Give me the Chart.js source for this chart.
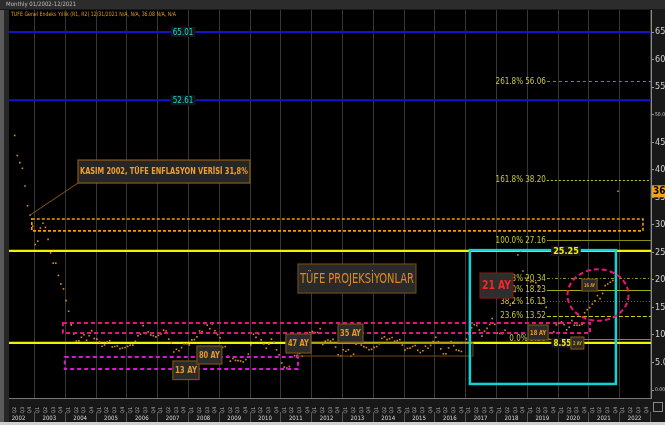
<!DOCTYPE html>
<html lang="tr">
<head>
<meta charset="UTF-8">
<title>TÜFE Projeksiyonlar</title>
<script src="https://cdn.jsdelivr.net/npm/chart.js"></script>
<style>
  html, body { margin: 0; padding: 0; background: #000; }
  canvas { display: block; }
</style>
</head>
<body>
<canvas id="grafik" width="665" height="425"></canvas>
<script>
// TÜFE yıllık değişim (%), aylık - ilk değer Mayıs 2002
const ilkAy = 2002 + 4 / 12;
const tufe = [
  46.22, 42.58, 41.28, 40.25, 37.05, 33.45, 31.77, 29.75,                        // 2002 (May-Ara)
  26.42, 27.03, 29.42, 30.28, 29.53, 27.36, 24.90, 23.03, 23.04, 20.80, 19.28, 18.36, // 2003
  16.22, 14.30, 11.83, 10.18, 8.88, 8.93, 9.57, 10.04, 9.02, 9.86, 10.76, 9.35,    // 2004
  9.24, 8.69, 7.94, 8.18, 8.70, 8.95, 7.82, 7.91, 7.99, 7.52, 7.61, 7.72,          // 2005
  7.93, 8.15, 8.16, 8.83, 9.86, 10.12, 11.69, 10.26, 10.55, 9.98, 9.86, 9.65,      // 2006
  9.93, 10.16, 10.86, 10.72, 9.23, 8.60, 6.90, 7.39, 7.12, 7.70, 8.40, 8.39,       // 2007
  8.17, 9.10, 9.15, 9.66, 10.74, 10.61, 12.06, 11.77, 11.13, 11.99, 10.76, 10.06,  // 2008
  9.50, 7.73, 7.89, 6.13, 5.24, 5.73, 5.39, 5.33, 5.27, 5.08, 5.53, 6.53,          // 2009
  8.19, 10.13, 9.56, 10.19, 9.10, 8.37, 7.58, 8.33, 9.24, 8.62, 7.29, 6.40,        // 2010
  4.90, 4.16, 3.99, 4.26, 7.17, 6.24, 6.31, 6.65, 6.15, 7.66, 9.48, 10.45,         // 2011
  10.61, 10.43, 10.43, 11.14, 8.28, 8.87, 9.07, 8.88, 9.19, 7.80, 6.37, 6.16,      // 2012
  7.31, 7.03, 7.29, 6.13, 6.51, 8.30, 8.88, 8.17, 7.88, 7.71, 7.32, 7.40,          // 2013
  7.75, 7.89, 8.39, 9.38, 9.66, 9.16, 9.32, 9.54, 8.86, 8.96, 9.15, 8.17,          // 2014
  7.24, 7.55, 7.61, 7.91, 8.09, 7.20, 6.81, 7.14, 7.95, 7.58, 8.10, 8.81,          // 2015
  9.58, 8.78, 7.46, 6.57, 6.58, 7.64, 8.79, 8.05, 7.28, 7.16, 7.00, 8.53,          // 2016
  9.22, 10.13, 11.29, 11.87, 11.72, 10.90, 9.79, 10.68, 11.20, 11.90, 12.98, 11.92, // 2017
  10.35, 10.26, 10.23, 10.85, 12.15, 15.39, 15.85, 17.90, 24.52, 25.24, 21.62, 20.30, // 2018
  20.35, 19.67, 19.71, 19.50, 18.71, 15.72, 16.65, 15.01, 9.26, 8.55, 10.56, 11.84, // 2019
  12.15, 12.37, 11.86, 10.94, 11.39, 12.62, 11.76, 11.77, 11.75, 11.89, 14.03, 14.60, // 2020
  14.97, 15.61, 16.19, 17.14, 16.59, 17.53, 18.95, 19.25, 19.58, 19.89, 21.31, 36.08  // 2021
];

const yillar = [2002, 2003, 2004, 2005, 2006, 2007, 2008, 2009, 2010, 2011, 2012,
                2013, 2014, 2015, 2016, 2017, 2018, 2019, 2020, 2021, 2022];
const ceyrekler = ['Q1', 'Q2', 'Q3', 'Q4'];
const yTikleri = [0, 5, 10, 15, 20, 25, 30, 35, 40, 45, 50, 55, 60, 65];

const maviSeviyeler = [65.01, 52.61];
const sariSeviyeler = [25.25, 8.55];
const fiboYuzde = ['0.0%', '23.6%', '38.2%', '50.0%', '61.8%', '100.0%', '161.8%', '261.8%'];
const fiboDeger = [9.30, 13.52, 16.13, 18.23, 20.34, 27.16, 38.20, 56.06];
const sonDeger = tufe[tufe.length - 1];

// notlar (veri biriminde konumlar)
const fiboBasla = 2019.65;
const kasimIdx = 6; // Kasım 2002
const ayKutulari = [
  { metin: '13 AY', x1: 2007.51, x2: 2008.36, y1: 1.9, y2: 5.27, boy: 9 },
  { metin: '80 AY', x1: 2008.29, x2: 2009.10, y1: 4.72, y2: 7.99, boy: 9 },
  { metin: '47 AY', x1: 2011.18, x2: 2011.99, y1: 6.72, y2: 10.17, boy: 9 },
  { metin: '35 AY', x1: 2012.87, x2: 2013.68, y1: 8.71, y2: 11.98, boy: 9 },
  { metin: '18 AY', x1: 2019.04, x2: 2019.69, y1: 9.08, y2: 11.8, boy: 7 },
  { metin: '2 AY', x1: 2020.43, x2: 2020.85, y1: 7.44, y2: 9.62, boy: 5 },
  { metin: '16 AY', x1: 2020.79, x2: 2021.28, y1: 17.97, y2: 20.15, boy: 5 }
];

const NAR = "'Liberation Sans Narrow', 'DejaVu Sans Condensed', sans-serif";

function yaziSigdir(ctx, metin, cx, cy, maxW, font, renk, hiza) {
  ctx.save();
  ctx.font = font;
  const w = ctx.measureText(metin).width;
  const s = Math.min(1, maxW / w);
  ctx.translate(cx, cy);
  ctx.scale(s, 1);
  ctx.textAlign = hiza || 'center';
  ctx.textBaseline = 'middle';
  ctx.fillStyle = renk;
  ctx.fillText(metin, 0, 0);
  ctx.restore();
}

const cizimler = {
  id: 'cizimler',
  beforeDraw(chart) {
    const { ctx, chartArea: a } = chart;
    ctx.save();
    ctx.fillStyle = '#181818';
    ctx.fillRect(0, 0, chart.width, chart.height);
    ctx.fillStyle = '#000';
    ctx.fillRect(a.left, a.top, a.right - a.left, a.bottom - a.top);
    ctx.fillStyle = '#2c2c2c';
    ctx.fillRect(0, 0, chart.width, a.top - 1);
    ctx.fillStyle = '#5a5a5a';
    ctx.fillRect(0, a.top, 4, chart.height - a.top);
    ctx.fillStyle = '#262626';
    ctx.fillRect(4, a.top, a.left - 4, chart.height - a.top);
    ctx.fillStyle = '#bbb';
    ctx.font = '6px ' + NAR;
    ctx.textBaseline = 'middle';
    ctx.fillText('Monthly 01/2002-12/2021', 6, 4.5);
    ctx.restore();
  },
  beforeDatasetsDraw(chart) {
    const { ctx, chartArea: a, scales: { x, y } } = chart;
    ctx.save();
    ctx.beginPath();
    ctx.rect(a.left, a.top, a.right - a.left, a.bottom - a.top);
    ctx.clip();
    // yıl ızgarası
    ctx.strokeStyle = '#363636';
    ctx.lineWidth = 1;
    yillar.forEach(yl => {
      const px = Math.round(x.getPixelForValue(yl + 1)) + 0.5;
      ctx.beginPath(); ctx.moveTo(px, a.top); ctx.lineTo(px, a.bottom); ctx.stroke();
    });
    // mavi seviyeler
    ctx.strokeStyle = '#1414c8';
    ctx.lineWidth = 2;
    maviSeviyeler.forEach(v => {
      const py = y.getPixelForValue(v);
      ctx.beginPath(); ctx.moveTo(a.left, py); ctx.lineTo(a.right, py); ctx.stroke();
    });
    // fibonacci
    const fiboStil = [
      ['#8c8c14', []], ['#d2d200', [4, 2]], ['#6e6e14', [1, 2]], ['#a8a814', []],
      ['#9a9a14', [3, 2, 1, 2]], ['#8c8c14', []], ['#c8c800', [2, 2]], ['#8c8c00', [3, 3]]
    ];
    ctx.lineWidth = 1;
    const fx = x.getPixelForValue(fiboBasla);
    fiboDeger.forEach((v, i) => {
      const py = Math.round(y.getPixelForValue(v)) + 0.5;
      ctx.strokeStyle = fiboStil[i][0];
      ctx.setLineDash(fiboStil[i][1]);
      ctx.beginPath(); ctx.moveTo(fx, py); ctx.lineTo(a.right, py); ctx.stroke();
    });
    ctx.setLineDash([]);
    // sarı seviyeler
    ctx.strokeStyle = '#f2f200';
    ctx.lineWidth = 2.2;
    sariSeviyeler.forEach(v => {
      const py = y.getPixelForValue(v);
      ctx.beginPath(); ctx.moveTo(a.left, py); ctx.lineTo(a.right, py); ctx.stroke();
    });
    ctx.restore();
  },
  afterDatasetsDraw(chart) {
    const { ctx, chartArea: a, scales: { x, y } } = chart;
    const X = v => x.getPixelForValue(v);
    const Y = v => y.getPixelForValue(v);

    function kesikKutu(x1, x2, y1, y2, renk, lw, dash) {
      ctx.save();
      ctx.strokeStyle = renk; ctx.lineWidth = lw; ctx.setLineDash(dash);
      ctx.strokeRect(X(x1), Y(y2), X(x2) - X(x1), Y(y1) - Y(y2));
      ctx.restore();
    }
    function etiketKutu(x1, x2, y1, y2, dolgu, cerceve, metin, font, renk) {
      const l = X(x1), r = X(x2), t = Y(y2), b = Y(y1);
      ctx.save();
      ctx.fillStyle = dolgu; ctx.fillRect(l, t, r - l, b - t);
      ctx.strokeStyle = cerceve; ctx.lineWidth = 1.2; ctx.strokeRect(l, t, r - l, b - t);
      ctx.restore();
      yaziSigdir(ctx, metin, (l + r) / 2, (t + b) / 2 + 0.5, r - l - 4, font, renk);
    }
    function degerEtiketi(metin, cxv, v, renk, font) {
      ctx.save();
      ctx.font = font;
      const w = ctx.measureText(metin).width + 4;
      const cx = X(cxv), cy = Y(v);
      ctx.fillStyle = '#161616';
      ctx.fillRect(cx - w / 2, cy - 5, w, 10);
      ctx.restore();
      yaziSigdir(ctx, metin, cx, cy + 0.5, w, font, renk);
    }

    ctx.save();
    ctx.beginPath();
    ctx.rect(a.left, a.top, a.right - a.left, a.bottom - a.top);
    ctx.clip();

    // kesikli kutular
    kesikKutu(2002.93, 2022.77, 28.9, 31.05, '#f0a000', 1.6, [3, 2]);
    kesikKutu(2003.94, 2021.05, 10.35, 12.16, '#e8147e', 2, [4, 3]);
    kesikKutu(2004.00, 2011.57, 3.81, 5.99, '#dc14dc', 2, [4, 3]);
    kesikKutu(2011.57, 2017.25, 6.17, 8.53, '#7a4a10', 1, []);
    kesikKutu(2017.15, 2021.89, 1.1, 25.4, '#14d2d2', 2.5, []);

    // elips
    ctx.save();
    const ex = X(2021.31), ey = Y(17.25);
    ctx.strokeStyle = '#e8147e'; ctx.lineWidth = 2; ctx.setLineDash([5, 3]);
    ctx.beginPath();
    ctx.ellipse(ex, ey, X(2021.31 + 0.99) - ex, Y(17.25 - 4.67) - ey, 0, 0, Math.PI * 2);
    ctx.stroke();
    ctx.restore();

    // fibonacci etiketleri
    ctx.save();
    ctx.font = '8px ' + NAR;
    ctx.fillStyle = '#c8c83c';
    ctx.textAlign = 'right';
    ctx.textBaseline = 'middle';
    fiboDeger.forEach((v, i) => {
      ctx.fillText(fiboYuzde[i] + ' ' + v.toFixed(2), X(fiboBasla) - 1, Y(v) + 0.5);
    });
    ctx.restore();

    // seviye etiketleri
    maviSeviyeler.forEach(v => degerEtiketi(v.toFixed(2), 2007.84, v, '#19d3d3', '8px ' + NAR));
    degerEtiketi(sariSeviyeler[0].toFixed(2), 2020.27, sariSeviyeler[0], '#f2f200', 'bold 9px ' + NAR);
    degerEtiketi(sariSeviyeler[1].toFixed(2), 2020.15, sariSeviyeler[1], '#f2f200', 'bold 8px ' + NAR);

    // AY kutuları
    ayKutulari.forEach(k => etiketKutu(k.x1, k.x2, k.y1, k.y2, '#2b2b2b', '#7a5012',
      k.metin, 'bold ' + k.boy + 'px ' + NAR, '#e09a30'));
    etiketKutu(2017.48, 2018.55, 16.7, 21.24, '#2e2e2e', '#7a1a1a', '21 AY', 'bold 12px ' + NAR, '#ff2424');
    etiketKutu(2011.57, 2015.40, 17.6, 22.88, '#2a2a2a', '#6e4812', 'TÜFE PROJEKSİYONLAR', '14px ' + NAR, '#e08a22');

    // Kasım 2002 notu
    const bx1 = 2004.43, bx2 = 2010.01, by1 = 37.58, by2 = 41.76;
    ctx.save();
    ctx.strokeStyle = '#8a5a12'; ctx.lineWidth = 1;
    ctx.beginPath();
    ctx.moveTo(X(bx1), Y(by1));
    ctx.lineTo(X(ilkAy + kasimIdx / 12 + 1 / 24), Y(tufe[kasimIdx]));
    ctx.stroke();
    ctx.restore();
    etiketKutu(bx1, bx2, by1, by2, '#262626', '#8a5a12',
      'KASIM 2002, TÜFE ENFLASYON VERİSİ 31,8%', 'bold 9px ' + NAR, '#f0a030');

    // lejant
    yaziSigdir(ctx, 'TUFE Genel Endeks Yıllık (R1, R2) 12/31/2021 N/A, N/A, 36.08 N/A, N/A',
      11, a.top + 4, 165, '6px ' + NAR, '#e8961e', 'left');
    ctx.restore();

    // yıl etiketleri ve ayraçlar
    ctx.save();
    ctx.font = '6px ' + NAR;
    ctx.fillStyle = '#d8d8d8';
    ctx.textAlign = 'center';
    ctx.textBaseline = 'middle';
    ctx.strokeStyle = '#555';
    ctx.lineWidth = 1;
    yillar.forEach(yl => {
      const mid = X(yl + 0.5);
      if (mid > a.left && mid < a.right) ctx.fillText(String(yl), mid, a.bottom + 20);
      const px = Math.round(X(yl + 1)) + 0.5;
      if (px < a.right) {
        ctx.beginPath(); ctx.moveTo(px, a.bottom + 14); ctx.lineTo(px, a.bottom + 24); ctx.stroke();
      }
    });
    ctx.fillStyle = '#d0d0d0';
    ctx.fillRect(0, chart.height - 3, chart.width, 3);
    ctx.restore();

    // son değer etiketi
    ctx.save();
    const sy = Y(sonDeger);
    ctx.fillStyle = '#f5a01e';
    ctx.fillRect(a.right + 1, sy - 6, chart.width - a.right, 12);
    ctx.fillStyle = '#000';
    ctx.font = 'bold 10px ' + NAR;
    ctx.textBaseline = 'middle';
    ctx.fillText(sonDeger.toFixed(2), a.right + 2, sy + 0.5);
    ctx.strokeStyle = '#888';
    ctx.strokeRect(a.right + 2.5, a.bottom + 4.5, 9, 9);
    ctx.restore();
  }
};

const noktalar = tufe.map((v, i) => ({ x: ilkAy + i / 12 + 1 / 24, y: v }));

new Chart(document.getElementById('grafik'), {
  type: 'line',
  data: {
    datasets: [{
      label: 'TÜFE',
      data: noktalar,
      showLine: false,
      pointStyle: 'rect',
      pointRadius: 1.15,
      pointBorderWidth: 0,
      pointBackgroundColor: '#dc8a1a',
      pointBorderColor: '#dc8a1a'
    }]
  },
  options: {
    responsive: false,
    animation: false,
    layout: { padding: { left: 9, top: 10, right: 0, bottom: 0 } },
    plugins: { legend: { display: false }, tooltip: { enabled: false } },
    scales: {
      x: {
        type: 'linear',
        min: 2002.19,
        max: 2023.03,
        afterBuildTicks: s => {
          const t = [];
          yillar.forEach(yl => ceyrekler.forEach((q, i) => {
            const v = yl + i / 4 + 0.125;
            if (v > s.min && v < s.max) t.push({ value: v });
          }));
          s.ticks = t;
        },
        afterFit: s => { s.height = 27; },
        grid: { display: false },
        border: { color: '#777' },
        ticks: {
          autoSkip: false, minRotation: 90, maxRotation: 90, padding: 1,
          color: '#b0b0b0', font: { size: 5, family: NAR },
          callback: v => ceyrekler[Math.floor(((v % 1) + 1e-6) * 4)]
        }
      },
      y: {
        position: 'right',
        min: -1.45,
        max: 69,
        afterBuildTicks: s => { s.ticks = yTikleri.map(v => ({ value: v })); },
        afterFit: s => { s.width = 14; },
        grid: { drawOnChartArea: false, color: '#999', tickLength: 3 },
        border: { color: '#8a8a8a' },
        ticks: {
          padding: 1,
          color: '#cfcfcf',
          font: c => ({ size: (c.tick && (c.tick.value === 0 || c.tick.value === 50)) ? 5 : 9, family: NAR }),
          callback: v => (v === 0 || v === 50) ? v.toFixed(2) : v.toFixed(1)
        }
      }
    }
  },
  plugins: [cizimler]
});
</script>
</body>
</html>
